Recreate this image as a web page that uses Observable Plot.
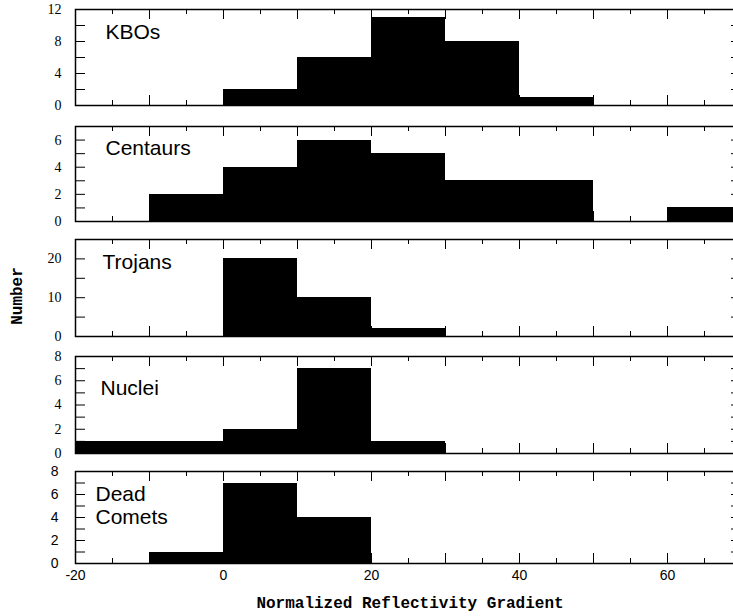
<!DOCTYPE html>
<html><head><meta charset="utf-8">
<script src="https://cdn.jsdelivr.net/npm/d3@7"></script>
<script src="https://cdn.jsdelivr.net/npm/@observablehq/plot@0.6"></script>
<style>
html,body{margin:0;padding:0;background:#fff;overflow:hidden;width:733px;height:616px}
#chart{position:relative;width:733px;height:616px;overflow:hidden}
#chart svg{max-width:none !important}
.ttl{position:absolute;font-family:"Liberation Mono","Courier New",monospace;font-weight:bold;font-size:16px;white-space:nowrap;line-height:1;color:#000}
</style></head><body><div id="chart"></div>
<script>
// ---- data ----
const binStarts = [-20, -10, 0, 10, 20, 30, 40, 50, 60];
const binWidth = 10;
const kbos       = [0, 0, 2, 6, 11, 8, 1, 0, 0];
const centaurs   = [0, 2, 4, 6, 5, 3, 3, 0, 1];
const trojans    = [0, 0, 20, 10, 2, 0, 0, 0, 0];
const nuclei     = [1, 1, 2, 7, 1, 0, 0, 0, 0];
const deadComets = [0, 1, 7, 4, 0, 0, 0, 0, 0];
const panelNames = ["KBOs", "Centaurs", "Trojans", "Nuclei", "Dead\nComets"];
const xTickLabels = [-20, 0, 20, 40, 60];
const xDomain = [-20, 70];
const yTickLabels = [[0, 4, 8, 12], [0, 2, 4, 6], [0, 10, 20], [0, 2, 4, 6, 8], [0, 2, 4, 6, 8]];
const yMax = [12, 7, 25, 8, 8];
const yStep = [2, 1, 5, 1, 1];
const xTitle = "Normalized Reflectivity Gradient";
const yTitle = "Number";

// ---- layout ----
const counts = [kbos, centaurs, trojans, nuclei, deadComets];
const frameTop = [9, 126, 239, 356, 471];
const frameBottom = [105, 221, 336, 453, 563];
const labelDx = [30, 30, 27, 25, 20];
const labelDy = [13, 12, 13, 22, 13];
const ML = 75, W = 742, MR = 1;
const innerW = W - ML - MR;
const mt = 10;

const chart = document.getElementById("chart");
const xMinor = d3.range(-15, 70, 5).filter(v => v % 10 !== 0);
const xMajor = d3.range(-10, 70, 10);

counts.forEach((c, i) => {
  const h = frameBottom[i] - frameTop[i];
  const last = i === counts.length - 1;
  const mb = last ? 30 : 10;
  const data = binStarts.map((b, j) => ({x1: b, x2: b + binWidth, n: c[j]})).filter(d => d.n > 0);
  const yTicks = d3.range(yStep[i], yMax[i], yStep[i]);
  const tickFont = last ? "Liberation Sans, Arial, sans-serif" : "Liberation Serif, Times New Roman, serif";
  const tickSize = 14;
  const marks = [
    Plot.rectY(data, {x1: "x1", x2: "x2", y: "n", fill: "black", shapeRendering: "crispEdges"}),
    Plot.frame({stroke: "black", strokeWidth: 1.5}),
    Plot.tickX(xMajor, {x: d => d, insetTop: h - 10, stroke: "black"}),
    Plot.tickX(xMinor, {x: d => d, insetTop: h - 5, stroke: "black"}),
    Plot.tickX(xMajor, {x: d => d, insetBottom: h - 10, stroke: "black"}),
    Plot.tickX(xMinor, {x: d => d, insetBottom: h - 5, stroke: "black"}),
    Plot.tickY(yTicks, {y: d => d, insetRight: innerW - 10, stroke: "black"}),
    Plot.tickY(yTicks, {y: d => d, insetLeft: innerW - 10, stroke: "black"}),
    Plot.text(yTickLabels[i], {y: d => d, text: d => String(d), frameAnchor: "left", dx: last ? -17 : -14,
      textAnchor: "end", fontFamily: tickFont, fontSize: tickSize, fill: "black"}),
    Plot.text([panelNames[i]], {text: d => d, frameAnchor: "top-left", dx: labelDx[i], dy: labelDy[i],
      lineAnchor: "top", textAnchor: "start", fontFamily: "Liberation Sans, Arial, sans-serif",
      fontSize: 21, lineHeight: 1.1, fill: "black"})
  ];
  if (last) {
    marks.push(Plot.text(xTickLabels, {x: d => d, text: d => String(d), frameAnchor: "bottom", dy: 7,
      lineAnchor: "top", fontFamily: "Liberation Sans, Arial, sans-serif", fontSize: 14, fill: "black"}));
  }
  const svg = Plot.plot({
    width: W, height: mt + h + mb,
    marginLeft: ML, marginRight: MR, marginTop: mt, marginBottom: mb,
    x: {domain: xDomain, axis: null},
    y: {domain: [0, yMax[i]], axis: null},
    style: {background: "transparent", overflow: "visible", maxWidth: "none"},
    marks
  });
  svg.style.position = "absolute";
  svg.style.left = "0px";
  svg.style.top = (frameTop[i] - mt) + "px";
  svg.style.maxWidth = "none";
  svg.style.width = W + "px";
  chart.appendChild(svg);
});

const yt = document.createElement("div");
yt.className = "ttl";
yt.textContent = yTitle;
yt.style.left = "18px"; yt.style.top = "296px";
yt.style.transform = "translate(-50%,-50%) rotate(-90deg)";
chart.appendChild(yt);

const xt = document.createElement("div");
xt.className = "ttl";
xt.textContent = xTitle;
xt.style.left = "410px"; xt.style.top = "596px";
xt.style.transform = "translateX(-50%)";
chart.appendChild(xt);
</script></body></html>
